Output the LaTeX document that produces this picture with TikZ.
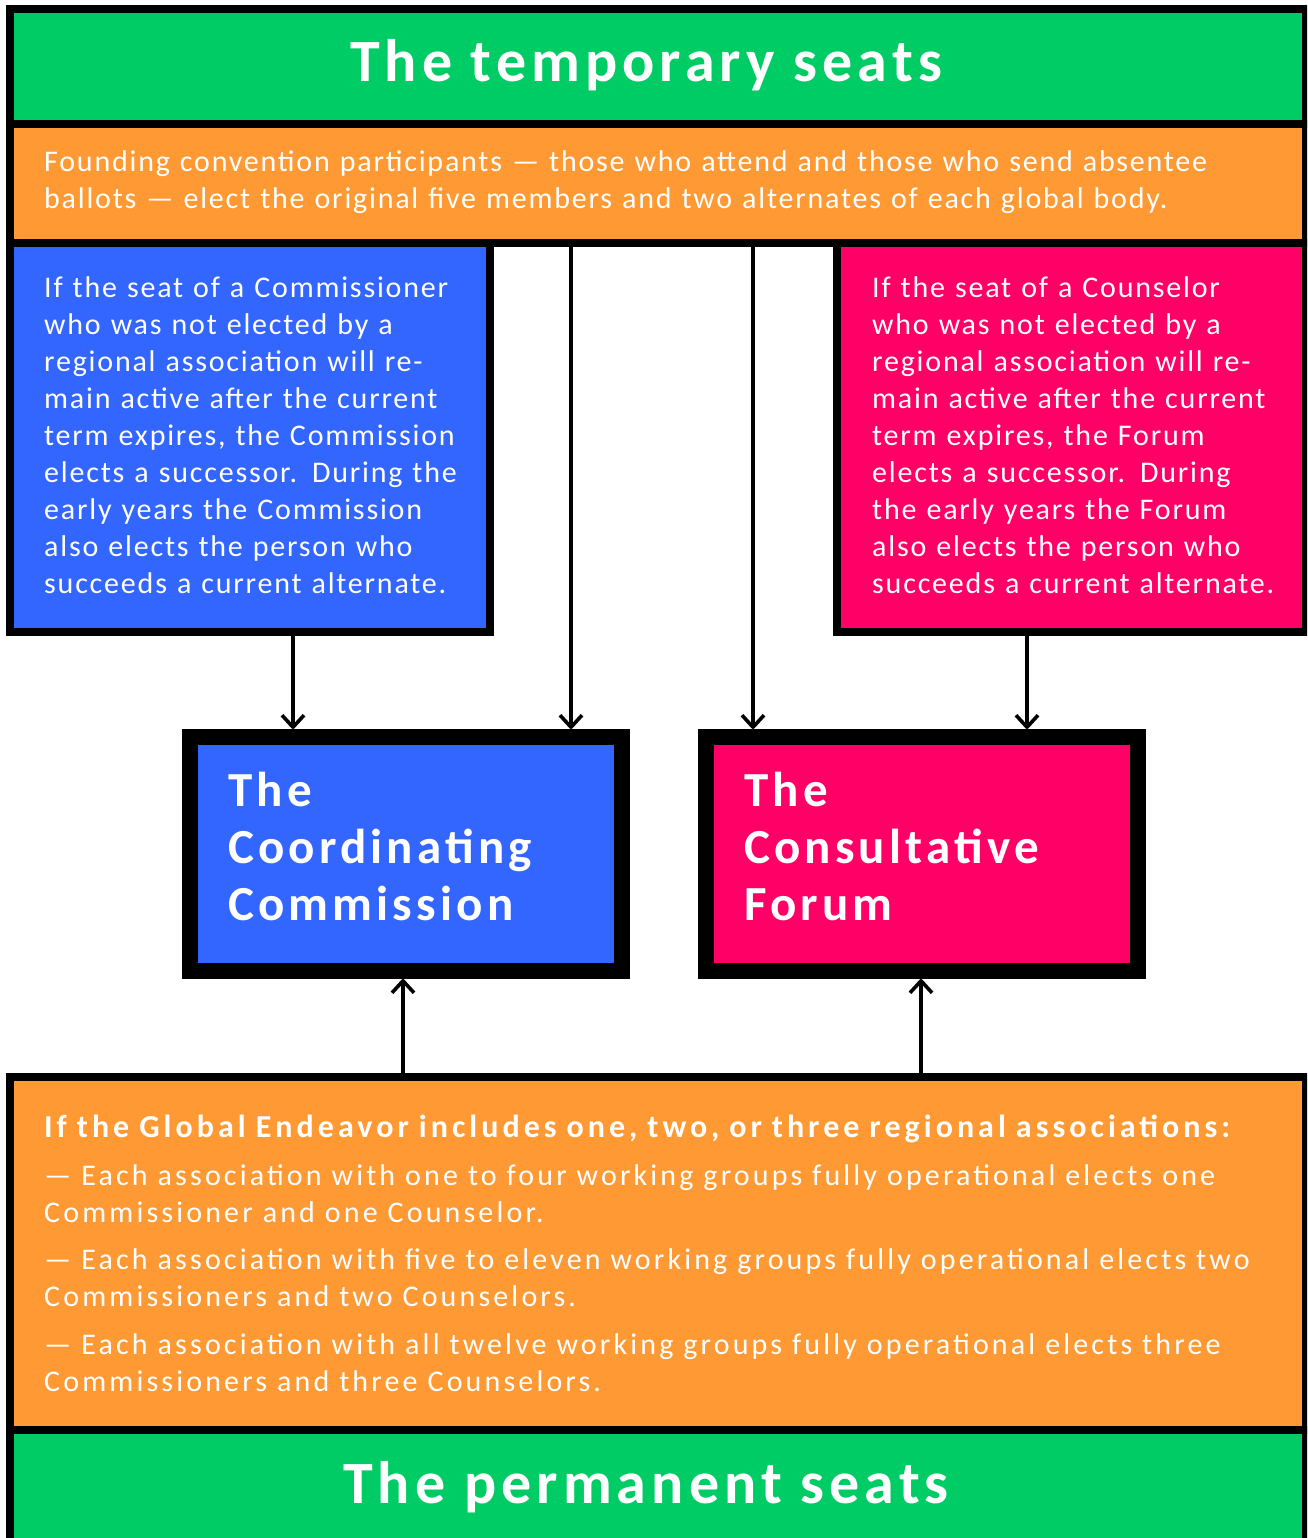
\documentclass[tikz,border=0pt]{standalone}
\usepackage{fontspec}
\setmainfont{Carlito}
\newfontfamily\bodyfont[LetterSpace=6]{Carlito}
\newfontfamily\widebodyfont[LetterSpace=10.5]{Carlito}
\newfontfamily\headfont[LetterSpace=8.5]{Carlito}
\newfontfamily\subheadfont[LetterSpace=12.6]{Carlito}
\usetikzlibrary{arrows.meta}
\definecolor{cgreen}{HTML}{00CC66}
\definecolor{corange}{HTML}{FF9933}
\definecolor{cblue}{HTML}{3366FF}
\definecolor{cpink}{HTML}{FF0066}
\begin{document}
\begin{tikzpicture}[x=1pt,y=-1pt,
  panel/.style={draw=black, line width=8pt, inner sep=0pt},
  bigbox/.style={draw=black, line width=16pt, inner sep=0pt},
  txt/.style={text=white, inner sep=0pt, anchor=base west, align=left, font=\bodyfont\fontsize{30}{37}\selectfont},
  ttl/.style={text=white, inner sep=0pt, anchor=base, font=\headfont\bfseries\fontsize{60}{70}\selectfont},
  boxttl/.style={text=white, inner sep=0pt, anchor=base west, align=left, text width=400pt, font=\headfont\bfseries\fontsize{49}{57}\selectfont},
  arr/.style={line width=3.6pt, -{Straight Barb[length=12pt,width=22pt,line join=round]}, line cap=round}]
\useasboundingbox (0,0) rectangle (1307,1538);
\clip (0,0) rectangle (1307,1538);
\fill[white] (0,0) rectangle (1307,1538);
% panels
\node[panel, fill=cgreen, minimum width=1296pt, minimum height=115pt] (topG) at (658,66.5) {};
\node[panel, fill=corange, minimum width=1296pt, minimum height=119pt] (topO) at (658,183.5) {};
\node[panel, fill=cblue, minimum width=480pt, minimum height=389pt] (lbox) at (250,437.5) {};
\node[panel, fill=cpink, minimum width=469pt, minimum height=389pt] (rbox) at (1071.5,437.5) {};
\node[bigbox, fill=cblue, minimum width=432pt, minimum height=234pt] (comm) at (406,854) {};
\node[bigbox, fill=cpink, minimum width=432pt, minimum height=234pt] (forum) at (922,854) {};
\node[panel, fill=corange, minimum width=1296pt, minimum height=353pt] (botO) at (658,1253.5) {};
\node[panel, fill=cgreen, minimum width=1296pt, minimum height=116pt] (botG) at (658,1488) {};
% texts
\node[ttl] (tTop) at (646,82) {The temporary seats};
\node[txt, text width=1250pt] (tFound) at (44,172) {Founding convention participants — those who attend and those who send absentee\\ballots — elect the original five members and two alternates of each global body.};
\node[txt, text width=450pt] (tLeft) at (44,297) {If the seat of a Commissioner\\who was not elected by a\\regional association will re-\\main active after the current\\term expires, the Commission\\elects a successor. During the\\early years the Commission\\also elects the person who\\succeeds a current alternate.};
\node[txt, text width=450pt] (tRight) at (872,297) {If the seat of a Counselor\\who was not elected by a\\regional association will re-\\main active after the current\\term expires, the Forum\\elects a successor. During\\the early years the Forum\\also elects the person who\\succeeds a current alternate.};
\node[boxttl] (tComm) at (228,806) {The\\Coordinating\\Commission};
\node[boxttl] (tForum) at (744,806) {The\\Consultative\\Forum};
\node[txt, text width=1258pt, font=\widebodyfont\fontsize{30}{37}\selectfont] (tBot) at (44,1137) {{\subheadfont\bfseries\fontsize{32}{37}\selectfont If the Global Endeavor includes one, two, or three regional associations:}\\[11pt]
— Each association with one to four working groups fully operational elects one\\Commissioner and one Counselor.\\[10pt]
— Each association with five to eleven working groups fully operational elects two\\Commissioners and two Counselors.\\[11pt]
— Each association with all twelve working groups fully operational elects three\\Commissioners and three Counselors.};
\node[ttl] (tBotG) at (646,1503) {The permanent seats};
% arrows
\coordinate (a1) at (293,0);
\coordinate (a2) at (571,0);
\coordinate (a3) at (753,0);
\coordinate (a4) at (1027,0);
\coordinate (a5) at (403,0);
\coordinate (a6) at (921,0);
\draw[arr] (lbox.south -| a1) -- (comm.north -| a1);
\draw[arr] (topO.south -| a2) -- (comm.north -| a2);
\draw[arr] (topO.south -| a3) -- (forum.north -| a3);
\draw[arr] (rbox.south -| a4) -- (forum.north -| a4);
\draw[arr] (botO.north -| a5) -- (comm.south -| a5);
\draw[arr] (botO.north -| a6) -- (forum.south -| a6);
\end{tikzpicture}
\end{document}
